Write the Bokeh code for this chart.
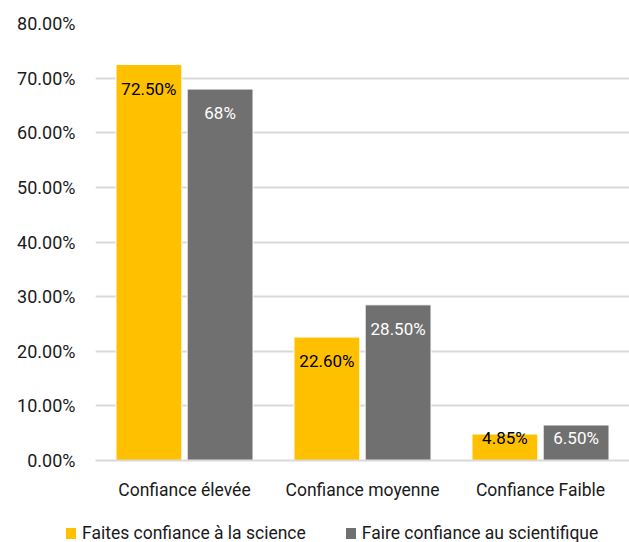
from bokeh.plotting import figure
from bokeh.layouts import column
from bokeh.models import (ColumnDataSource, FactorRange, FixedTicker, PrintfTickFormatter,
                          Range1d, Div)
from bokeh.transform import dodge
from bokeh.core.properties import value
from bokeh.embed import file_html
from bokeh.resources import INLINE

categories = ["Confiance élevée", "Confiance moyenne", "Confiance Faible"]
science = [72.5, 22.6, 4.85]
scientifique = [68.0, 28.5, 6.5]
science_labels = ["72.50%", "22.60%", "4.85%"]
scientifique_labels = ["68%", "28.50%", "6.50%"]
series_names = ["Faites confiance à la science", "Faire confiance au scientifique"]
y_ticks = [0, 10, 20, 30, 40, 50, 60, 70, 80]

YELLOW = "#FFC000"
GREY = "#707070"
FONT = "Roboto"
TEXT = "#1a1a1a"

def label_pos(vals):
    return [max(v - 4.4, 4.2) for v in vals]

src = ColumnDataSource(dict(
    cat=categories, a=science, b=scientifique,
    la=science_labels, lb=scientifique_labels,
    ya=label_pos(science), yb=label_pos(scientifique),
))

p = figure(x_range=FactorRange(*categories), y_range=Range1d(0, 80),
           width=629, height=505, output_backend="svg", toolbar_location=None,
           min_border_left=95, min_border_right=0, min_border_top=23,
           min_border_bottom=45)
p.outline_line_color = None
p.background_fill_color = "white"
p.border_fill_color = "white"

p.vbar(x=dodge("cat", -0.2, range=p.x_range), top="a", width=0.37, source=src,
       fill_color=YELLOW, line_color="white", line_width=1)
p.vbar(x=dodge("cat", 0.2, range=p.x_range), top="b", width=0.37, source=src,
       fill_color=GREY, line_color="white", line_width=1)

p.text(x=dodge("cat", -0.2, range=p.x_range), y="ya", text="la", source=src,
       text_align="center", text_baseline="middle", text_color="black",
       text_font=value(FONT), text_font_size="17px")
p.text(x=dodge("cat", 0.2, range=p.x_range), y="yb", text="lb", source=src,
       text_align="center", text_baseline="middle", text_color="white",
       text_font=value(FONT), text_font_size="17px")

# axes
p.yaxis.ticker = FixedTicker(ticks=y_ticks)
p.yaxis.formatter = PrintfTickFormatter(format="%.2f%%")
p.yaxis.axis_line_color = None
p.yaxis.major_tick_line_color = None
p.yaxis.minor_tick_line_color = None
p.yaxis.major_label_text_font = FONT
p.yaxis.major_label_text_font_size = "18px"
p.yaxis.major_label_text_color = TEXT
p.yaxis.major_label_standoff = 14

p.xaxis.axis_line_color = "#D9D9D9"
p.xaxis.axis_line_width = 2
p.xaxis.major_tick_line_color = None
p.xaxis.minor_tick_line_color = None
p.xaxis.major_label_text_font = FONT
p.xaxis.major_label_text_font_size = "17.5px"
p.xaxis.major_label_text_color = TEXT
p.xaxis.major_label_standoff = 13

p.xgrid.grid_line_color = None
p.ygrid.grid_line_color = "#D9D9D9"
p.ygrid.grid_line_width = 2

# legend strip under the chart
def key(color, label, first):
    gap = "0" if first else "40px"
    return (f'<span style="display:inline-block;width:10px;height:11px;'
            f'background:{color};margin-left:{gap};margin-right:6px;"></span>'
            f'<span>{label}</span>')

legend_html = (
    f'<div style="display:flex;align-items:center;padding-left:66px;padding-top:17px;'
    f'font-family:{FONT};font-size:17.5px;line-height:22px;color:{TEXT};white-space:nowrap;">'
    + key(YELLOW, series_names[0], True)
    + key(GREY, series_names[1], False)
    + '</div>'
)
lg = Div(text=legend_html, width=629, height=37, margin=0)

layout = column(p, lg, spacing=0)
open("out.html", "w").write(file_html(layout, INLINE))
